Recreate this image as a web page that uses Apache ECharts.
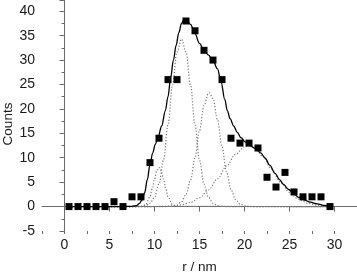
<!DOCTYPE html>
<html>
<head>
<meta charset="utf-8">
<script src="https://cdn.jsdelivr.net/npm/echarts@6/dist/echarts.min.js"></script>
<style>
html,body{margin:0;padding:0;background:#fff;}
#c{width:357px;height:272px;}
</style>
</head>
<body>
<div id="c"></div>
<script>
// measured histogram points (r / nm, counts)
var pointX = [0.5,1.5,2.5,3.5,4.5,5.5,6.5,7.5,8.5,9.5,10.5,11.5,12.5,13.5,14.5,15.5,16.5,17.5,18.5,19.5,20.5,21.5,22.5,23.5,24.5,25.5,26.5,27.5,28.5,29.5];
var pointY = [0,0,0,0,0,1,0,2,2,9,14,26,26,38,36,32,30,26,14,13,13,12,6,4,7,3,2,2,2,0];

// overall fit curve (solid)
var fitX = [0.5,3,6,7.5,8,8.3,8.6,8.9,9.2,9.5,9.8,10.1,10.4,10.8,11.2,11.5,11.8,12.1,12.4,12.7,13.0,13.3,13.6,14.0,14.5,15.0,15.5,16.0,16.5,17.0,17.4,17.8,18.1,18.4,18.8,19.2,19.6,20.1,20.6,21.2,21.8,22.3,22.8,23.4,23.9,24.3,24.9,25.5,26.0,26.6,27.3,28.1,28.8,29.5];
var fitY = [0,0,0,0.05,0.2,0.6,1.3,2.8,5.5,8.6,11,12.8,14.3,16.5,19.6,22.5,26.5,30,33,35.6,37.5,38.4,38.2,37.3,35.4,33.4,32,31,29.9,28.2,25.5,22.0,19.6,18.0,16.5,15.2,14.1,13.2,12.5,11.9,11.0,9.9,8.5,6.8,5.5,4.6,3.5,2.6,1.9,1.4,0.9,0.55,0.25,0.05];

// component peaks (dotted)
var peak1X = [0.5,8.5,9,9.5,9.75,10,10.25,10.5,10.75,11,11.25,11.5,12,12.5,29.5];
var peak1Y = [0,0.03,0.35,2.0,3.66,5.66,7.33,8,7.33,5.66,3.66,2.0,0.35,0.03,0];
var peak2X = [0.5,8,8.5,9,9.5,10,10.5,11,11.5,12,12.5,13,13.5,14,14.5,15,15.5,16,16.5,17,17.5,18,29.5];
var peak2Y = [0,0,0.05,0.2,0.68,1.9,4.6,9.5,16.7,24.9,31.7,34.3,31.7,24.9,16.7,9.5,4.6,1.9,0.68,0.2,0.05,0,0];
var peak3X = [0.5,11,11.5,12,12.5,13,13.5,14,14.5,15,15.5,16,16.1,16.5,17,17.5,18,18.5,19,19.5,20,20.5,21,29.5];
var peak3Y = [0,0,0.02,0.09,0.32,0.98,2.5,5.4,10.0,15.6,20.7,23.2,23.3,22.1,17.8,12.2,7.1,3.5,1.45,0.51,0.15,0.04,0,0];
var peak4X = [0.5,10,11,12,13,14,15,16,17,18,19,20,20.5,21,22,23,24,25,26,27,28,29,29.5];
var peak4Y = [0,0.01,0.04,0.12,0.35,0.84,1.8,3.4,5.7,8.3,10.7,12.2,12.4,12.1,10.4,7.7,5.0,2.9,1.5,0.7,0.3,0.1,0.06];

var xMajor = [0,5,10,15,20,25,30];

function pairs(xs, ys){ return xs.map(function(x,i){ return [x, ys[i]]; }); }

var axisColor = '#6a6a6a';
var tickLabelStyle = {fontFamily:'Liberation Sans', fontSize:14, color:'#1a1a1a'};
var nameStyle = {fontFamily:'Liberation Sans', fontSize:13.5, color:'#1a1a1a'};

var chart = echarts.init(document.getElementById('c'), null, {renderer:'canvas'});
var dotted = function(xs, ys){
  return {type:'line', data:pairs(xs, ys), smooth:0.35, smoothMonotone:'x', showSymbol:false, symbol:'none',
    lineStyle:{color:'#7a7a7a', width:1.2, type:[1.2,1.8]}, z:2, silent:true};
};
chart.setOption({
  animation:false,
  backgroundColor:'#fff',
  grid:{left:42, right:0, top:0, bottom:41, containLabel:false, outerBoundsMode:'none'},
  xAxis:[{
    type:'value', min:-2.5, max:32.5, position:'bottom',
    axisLine:{show:true, lineStyle:{color:axisColor, width:1}},
    axisTick:{show:true, inside:false, length:5, customValues:xMajor, lineStyle:{color:axisColor}},
    axisLabel:Object.assign({margin:7, customValues:xMajor}, tickLabelStyle),
    splitLine:{show:false},
    name:'r / nm', nameLocation:'middle', nameGap:29,
    nameTextStyle:nameStyle
  },{
    type:'value', min:-2.5, max:32.5, interval:2.5, position:'bottom', gridIndex:0, offset:0,
    axisLine:{show:false},
    axisTick:{show:true, inside:false, length:3, lineStyle:{color:axisColor}},
    axisLabel:{show:false}, splitLine:{show:false}
  }],
  yAxis:{
    type:'value', min:-5, max:42.3, interval:5,
    axisLine:{show:true, lineStyle:{color:axisColor, width:1}},
    axisTick:{show:true, inside:false, length:5, lineStyle:{color:axisColor}},
    minorTick:{show:true, splitNumber:2, length:3, lineStyle:{color:axisColor}},
    axisLabel:Object.assign({margin:7, showMaxLabel:false}, tickLabelStyle),
    splitLine:{show:false}, minorSplitLine:{show:false}
  },
  graphic:[{
    type:'text', x:8.5, y:124, rotation:Math.PI/2,
    style:{text:'Counts', font:'13.5px "Liberation Sans"', fill:'#1a1a1a', align:'center', verticalAlign:'middle'}
  }],
  series:[
    dotted(peak1X, peak1Y),
    dotted(peak2X, peak2Y),
    dotted(peak3X, peak3Y),
    dotted(peak4X, peak4Y),
    {type:'line', data:pairs(fitX, fitY), smooth:0.35, smoothMonotone:'x', showSymbol:false, symbol:'none',
      lineStyle:{color:'#000', width:1.3}, z:3, silent:true},
    {type:'scatter', data:pairs(pointX, pointY), symbol:'rect', symbolSize:7,
      itemStyle:{color:'#000', opacity:1}, z:4, silent:true}
  ]
});
</script>
</body>
</html>
